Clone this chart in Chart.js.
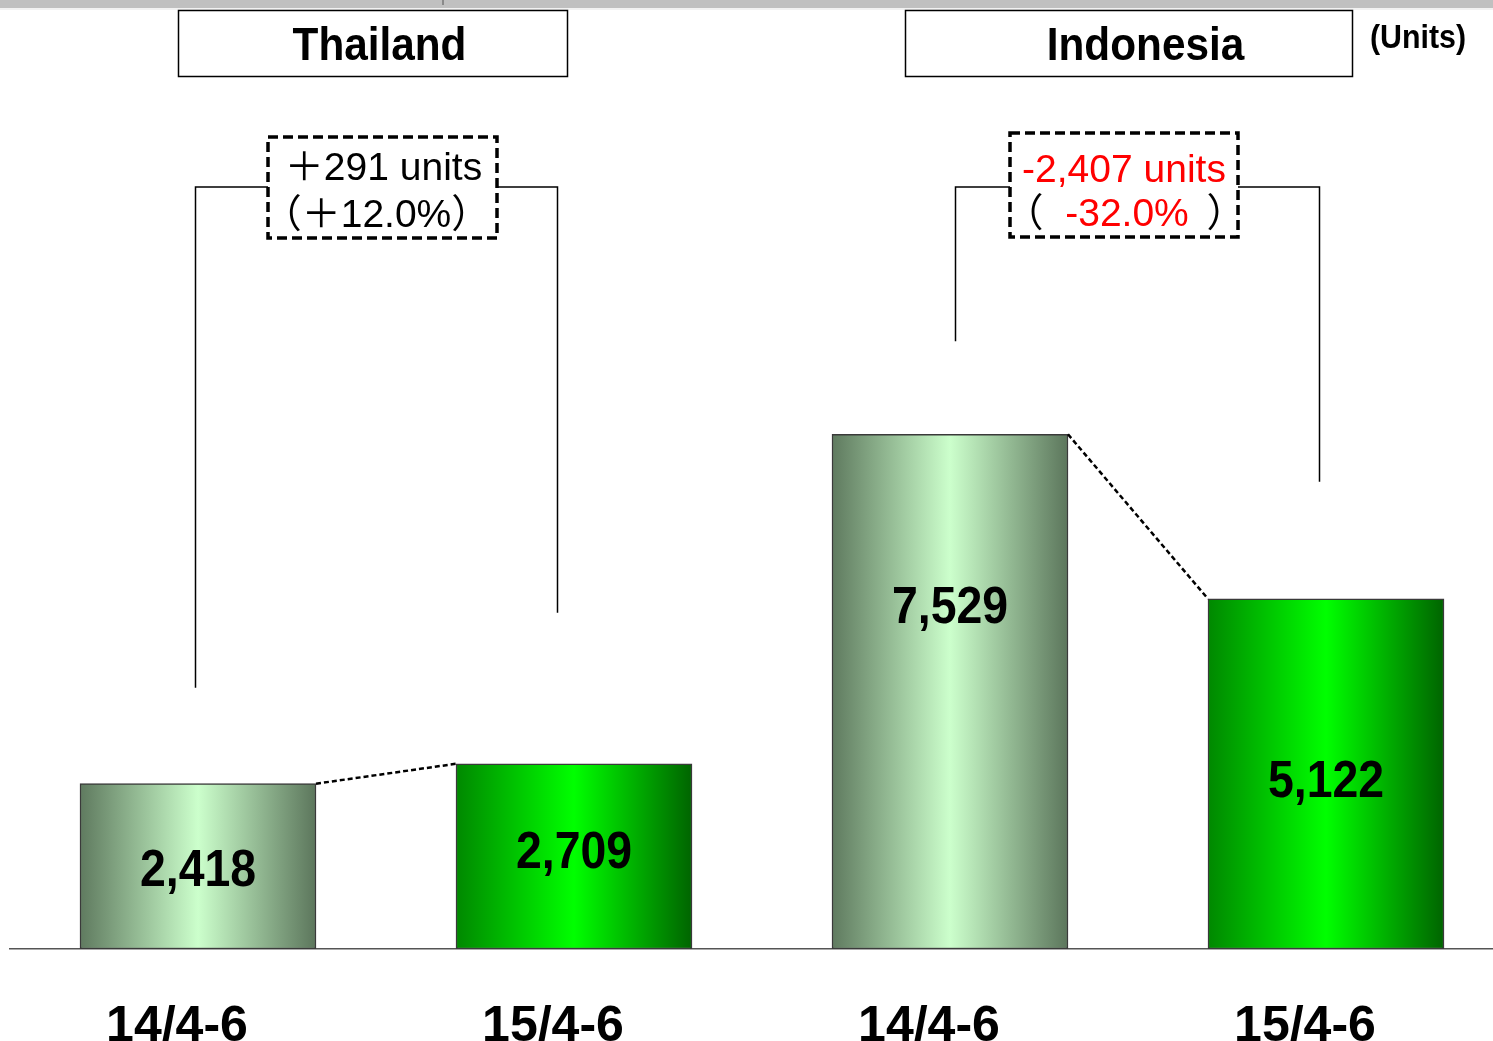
<!DOCTYPE html>
<html>
<head>
<meta charset="utf-8">
<title>Thailand / Indonesia unit sales</title>
<script src="https://cdn.jsdelivr.net/npm/chart.js@4/dist/chart.umd.min.js"></script>
<style>
  html, body { margin: 0; padding: 0; background: #fff; overflow: hidden; }
  #wrap { width: 1493px; height: 1041px; position: relative; overflow: hidden; }
  #c { position: absolute; left: 0; top: 0; }
</style>
</head>
<body>
<div id="wrap"><canvas id="c" width="1520" height="1109"></canvas></div>
<script>
// Quarterly unit sales, April–June, by market
const categories = ['14/4-6', '15/4-6', '14/4-6', '15/4-6'];
const markets = ['Thailand', 'Indonesia'];
const units = [2418, 2709, 7529, 5122];
const changeUnits = ['＋291 units', '-2,407 units'];
const changePct = ['＋12.0%', '-32.0%'];
const unitLabel = '(Units)';

const FONT = '"Liberation Sans", Arial, "Noto Sans CJK JP", sans-serif';

// horizontal cylinder-like shading for each bar
const shades = [
  ['#5f7a5f', '#ccffcc', '#5c765c'],
  ['#008800', '#00ff00', '#006400'],
  ['#5f7a5f', '#ccffcc', '#5c765c'],
  ['#008800', '#00ff00', '#006400']
];
const BAR_W = 236;

function barFill(ctx) {
  const chart = ctx.chart;
  const i = ctx.dataIndex;
  if (!chart.chartArea) return shades[i][1];
  const cx = chart.scales.x.getPixelForValue(i);
  const g = chart.ctx.createLinearGradient(cx - BAR_W / 2, 0, cx + BAR_W / 2, 0);
  g.addColorStop(0, shades[i][0]);
  g.addColorStop(0.5, shades[i][1]);
  g.addColorStop(1, shades[i][2]);
  return g;
}

// where inside each bar its value sits (fraction of the bar height)
const valueLabelAt = [0.465, 0.515, 0.66, 0.475];

// draw text slightly condensed, like a narrow bold face
function narrowText(c, text, x, y, squeeze) {
  c.save();
  c.translate(x, y);
  c.scale(squeeze, 1);
  c.fillText(text, 0, 0);
  c.restore();
}

const decorations = {
  id: 'decorations',
  beforeDraw(chart) {
    const c = chart.ctx;
    c.save();
    c.fillStyle = '#c0c0c0';
    c.fillRect(0, 0, 1493, 8);
    c.fillStyle = '#f2f2f2';
    c.fillRect(0, 8, 1493, 2);
    c.fillStyle = '#8a8a8a';
    c.fillRect(442, 0, 2, 5);
    c.restore();
  },
  afterDatasetsDraw(chart) {
    const c = chart.ctx;
    const bars = chart.getDatasetMeta(0).data;
    c.save();

    // value labels
    c.fillStyle = '#000';
    c.font = 'bold 51px ' + FONT;
    c.textAlign = 'center';
    c.textBaseline = 'middle';
    bars.forEach((b, i) => {
      const y = b.base - valueLabelAt[i] * (b.base - b.y);
      narrowText(c, units[i].toLocaleString('en-US'), b.x, y, 0.91);
    });

    // dotted connectors between each pair of bar tops
    c.strokeStyle = '#000';
    c.lineWidth = 2.5;
    c.setLineDash([5, 3]);
    [[0, 1], [2, 3]].forEach(([a, b]) => {
      const A = bars[a], B = bars[b];
      c.beginPath();
      c.moveTo(A.x + A.width / 2, A.y);
      c.lineTo(B.x - B.width / 2, B.y);
      c.stroke();
    });
    c.setLineDash([]);

    // market headers
    const headers = [
      { x: 178, y: 10, w: 389, h: 66, dx: 7, text: markets[0] },
      { x: 905, y: 10, w: 447, h: 66, dx: 17, text: markets[1] }
    ];
    c.lineWidth = 1.5;
    c.strokeStyle = '#000';
    c.font = 'bold 47px ' + FONT;
    headers.forEach(h => {
      c.strokeRect(h.x + 0.5, h.y + 0.5, h.w, h.h);
      narrowText(c, h.text, h.x + h.w / 2 + h.dx, h.y + h.h / 2 + 4, 0.9);
    });
    c.font = 'bold 33px ' + FONT;
    narrowText(c, unitLabel, 1418, 39, 0.92);

    // change brackets with dashed call-out boxes
    const brackets = [
      { pair: [0, 1], dx: [-3, -17], gap: [96, 151], box: [268, 137, 229, 101], color: '#000' },
      { pair: [2, 3], dx: [5, -7], gap: [93, 117], box: [1010, 133, 228, 104], color: '#ff0000' }
    ];
    const lineY = 187;
    brackets.forEach((br, k) => {
      const L = bars[br.pair[0]], R = bars[br.pair[1]];
      const [bx, by, bw, bh] = br.box;
      const lx = Math.round(L.x + br.dx[0]) + 0.5;
      const rx = Math.round(R.x + br.dx[1]) + 0.5;
      c.strokeStyle = '#000';
      c.lineWidth = 1.5;
      c.beginPath();
      c.moveTo(lx, L.y - br.gap[0]);
      c.lineTo(lx, lineY);
      c.lineTo(bx, lineY);
      c.moveTo(bx + bw, lineY);
      c.lineTo(rx, lineY);
      c.lineTo(rx, R.y - br.gap[1]);
      c.stroke();

      c.lineWidth = 3.5;
      c.setLineDash([10, 5]);
      c.strokeRect(bx, by, bw, bh);
      c.setLineDash([]);

      const cx = bx + bw / 2;
      c.font = '39px ' + FONT;
      c.fillStyle = br.color;
      c.textAlign = 'center';
      if (k === 0) {
        c.fillText(changeUnits[k], cx + 1, by + bh * 0.32);
        c.fillText('（' + changePct[k] + '）', cx - 6, by + bh * 0.78);
      } else {
        c.fillText(changeUnits[k], cx, by + bh * 0.37);
        c.fillText(changePct[k], cx + 3, by + bh * 0.79);
        c.fillStyle = '#000';
        c.fillText('（', bx + 14, by + bh * 0.79);
        c.fillText('）', bx + bw - 12, by + bh * 0.79);
      }
    });
    c.restore();
  }
};

new Chart(document.getElementById('c'), {
  type: 'bar',
  data: {
    labels: categories,
    datasets: [{
      data: units,
      backgroundColor: barFill,
      borderColor: '#3a3a3a',
      borderWidth: 1.5,
      borderSkipped: false,
      barThickness: BAR_W
    }]
  },
  options: {
    responsive: false,
    animation: false,
    devicePixelRatio: 1,
    layout: { padding: { left: 10, right: 6, top: 197, bottom: 4 } },
    plugins: { legend: { display: false }, tooltip: { enabled: false } },
    scales: {
      x: {
        offset: true,
        grid: { display: false, drawTicks: false },
        border: { display: true, color: '#555', width: 1.5 },
        ticks: {
          color: '#000',
          font: { family: FONT, size: 50, weight: 'bold' },
          padding: 48,
          labelOffset: -21,
          maxRotation: 0,
          autoSkip: false
        }
      },
      y: { display: false, min: 0, max: 11000 }
    }
  },
  plugins: [decorations]
});
</script>
</body>
</html>
